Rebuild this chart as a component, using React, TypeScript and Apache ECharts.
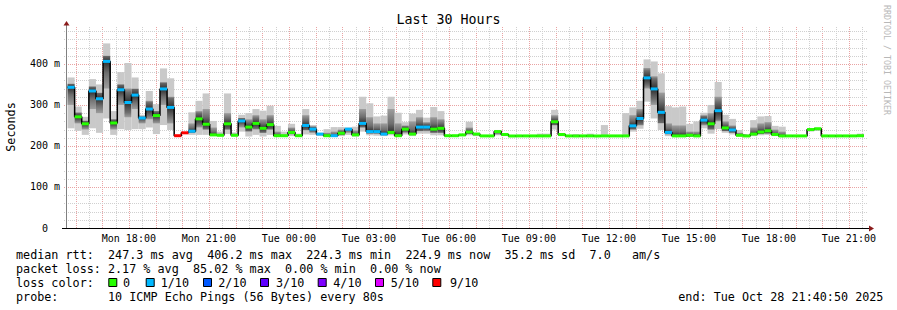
import React, { useEffect, useRef } from "react";
import * as echarts from "echarts";

// ---- time frame (hours since Mon 00:00) ----
const START_HOUR = 15 + 40 / 60 + 50 / 3600; // Mon 15:40:50
const END_HOUR = START_HOUR + 30; // Tue 21:40:50
const BIN_FIRST = 15.7; // first 16-minute consolidation bin
const BIN_HOURS = 16 / 60;

// ---- data (ms) ----
const MEDIAN = [
  343, 271, 254, 334, 315, 406.2, 256, 337, 306, 324,
  268, 290, 274, 339, 294, 225, 232, 236, 266, 253,
  227, 226, 254, 226, 261, 246, 255, 243, 252, 225,
  225, 233, 225, 250, 241, 229, 225, 225, 231, 241,
  227, 255, 235, 235, 229, 233, 225, 241, 229, 246,
  246, 241, 243, 225, 225, 227, 234, 229, 224.5, 224.5,
  235, 228, 224.5, 224.5, 224.5, 224.5, 224.5, 224.5, 259, 228,
  224.5, 224.3, 224.5, 224.5, 224.3, 224.5, 224.5, 224.5, 224.5, 249,
  267, 366, 339, 282, 233, 224.5, 224.5, 226, 224.5, 263,
  254, 286, 244, 239, 226, 224.4, 229, 234, 237, 228,
  224.4, 224.5, 224.5, 224.5, 240, 242, 224.5, 224.4, 224.5, 224.5,
  224.5, 224.9,
];
// loss class index: 0 = 0, 1 = 1/10, ... 6 = 9/10
const LOSS = [
  1, 0, 0, 1, 1, 1, 0, 1, 1, 1,
  1, 1, 0, 1, 1, 6, 6, 1, 0, 0,
  0, 0, 0, 0, 1, 0, 0, 0, 0, 0,
  0, 0, 0, 1, 1, 1, 0, 1, 0, 1,
  0, 1, 1, 1, 1, 0, 0, 0, 0, 1,
  1, 0, 0, 0, 0, 0, 0, 0, 0, 0,
  0, 0, 0, 0, 0, 0, 0, 0, 0, 0,
  0, 0, 0, 0, 0, 0, 0, 0, 0, 1,
  1, 1, 1, 1, 1, 0, 0, 0, 0, 1,
  0, 1, 0, 1, 0, 0, 0, 0, 0, 0,
  0, 0, 0, 0, 0, 0, 0, 0, 0, 0,
  0, 0,
];
const SMOKE_HI = [
  367, 296, 271, 363, 350, 450, 285, 380, 402, 367,
  276, 334, 302, 389, 365, 225, 232, 282, 310, 328,
  261, 235, 328, 233, 276, 280, 290, 286, 298, 249,
  235, 254, 230, 290, 251, 231, 241, 246, 246, 245,
  247, 320, 304, 272, 274, 320, 281, 258, 279, 288,
  269, 295, 285, 227, 226, 229, 259, 232, 225, 225,
  239, 230, 225, 225, 225, 225, 230, 230, 288, 230,
  225, 229, 225, 230, 225, 251, 225, 225, 280, 294,
  310, 411, 406, 377, 297, 294, 296, 254, 260, 281,
  300, 356, 276, 266, 239, 228, 263, 272, 273, 249,
  247, 225, 225, 225, 241, 243, 225, 225, 225, 225,
  225, 230,
];
const SMOKE_LO = [
  243, 237, 227, 243, 232, 267, 227, 241, 239, 241,
  241, 245, 229, 251, 239, 225, 232, 227, 227, 227,
  226, 225, 229, 224, 235, 223, 227, 223, 227, 223,
  223, 224, 223, 228, 227, 225, 223, 223, 224, 227,
  223, 235, 226, 225, 224, 226, 223, 228, 224, 230,
  230, 226, 226, 224, 224, 224, 226, 224, 224, 224,
  226, 224, 224, 224, 224, 224, 224, 224, 240, 224,
  224, 224, 224, 224, 224, 224, 224, 224, 224, 235,
  242, 308, 267, 239, 224, 223, 223, 223, 223, 243,
  230, 241, 232, 228, 223, 223, 224, 226, 227, 224,
  223, 224, 224, 224, 236, 238, 224, 224, 224, 224,
  224, 224,
];
const CORE_LO = [
  300, 255, 240, 290, 280, 340, 240, 300, 270, 290,
  255, 265, 255, 300, 255, 225, 232, 232, 245, 240,
  227, 225, 240, 225, 245, 235, 240, 232, 240, 224,
  224, 228, 224, 238, 232, 226, 224, 224, 226, 232,
  225, 245, 230, 230, 226, 230, 225, 232, 227, 236,
  236, 232, 232, 224, 224, 225, 229, 226, 224, 224,
  228, 225, 224, 224, 224, 224, 224, 224, 250, 225,
  224, 224, 224, 224, 224, 224, 224, 224, 224, 240,
  250, 340, 300, 255, 228, 224, 224, 224, 224, 250,
  240, 260, 236, 232, 224, 224, 226, 229, 230, 226,
  224, 224, 224, 224, 236, 238, 224, 224, 224, 224,
  224, 224,
];
const CORE_HI = [
  352, 282, 262, 345, 330, 420, 265, 350, 340, 340,
  272, 310, 285, 355, 320, 225, 232, 255, 285, 290,
  245, 230, 280, 230, 268, 265, 275, 265, 275, 235,
  228, 245, 227, 275, 248, 230, 232, 235, 240, 243,
  238, 290, 270, 255, 255, 290, 255, 250, 260, 270,
  258, 270, 265, 226, 225, 228, 245, 230, 225, 225,
  237, 229, 225, 225, 225, 225, 227, 227, 275, 229,
  225, 227, 225, 227, 225, 225, 225, 225, 225, 275,
  290, 390, 370, 330, 255, 250, 250, 235, 235, 275,
  280, 320, 260, 250, 232, 226, 245, 255, 258, 240,
  235, 225, 225, 225, 241, 243, 225, 225, 225, 225,
  225, 228,
];

const LOSS_COLORS = ["#26ff00", "#00b8ff", "#0059ff", "#5e00ff", "#7e00ff", "#dd00ff", "#ff0000"];
const LOSS_LABELS = ["0", "1/10", "2/10", "3/10", "4/10", "5/10", "9/10"];
const X_LABEL_HOURS = [18, 21, 24, 27, 30, 33, 36, 39, 42, 45];

const TITLE = "Last 30 Hours";
const LEGEND_LINE1 = "median rtt:  247.3 ms avg  406.2 ms max  224.3 ms min  224.9 ms now  35.2 ms sd  7.0   am/s";
const LEGEND_LINE2 = "packet loss: 2.17 % avg  85.02 % max  0.00 % min  0.00 % now";
const LEGEND_LINE3 = "loss color:";
const LEGEND_LINE4 = "probe:       10 ICMP Echo Pings (56 Bytes) every 80s";
const END_TEXT = "end: Tue Oct 28 21:40:50 2025";
const WATERMARK = "RRDTOOL / TOBI OETIKER";

const MONO = "'DejaVu Sans Mono', monospace";
const CW = 7.08;
const LEG_FONT = 11.75;

function lineTexts(str: string, y: number) {
  const out: any[] = [];
  const re = /\S+(?: \S+)*/g;
  let m: RegExpExecArray | null;
  while ((m = re.exec(str))) {
    out.push({
      type: "text",
      x: 16 + m.index * CW,
      y,
      style: { text: m[0], font: `${LEG_FONT}px ${MONO}`, fill: "#000", verticalAlign: "middle" },
    });
  }
  return out;
}

export default function App() {
  const ref = useRef<HTMLDivElement>(null);
  useEffect(() => {
    if (!ref.current) return;
    const chart = echarts.init(ref.current, null, { renderer: "svg" });

    const binStart = (k: number) => BIN_FIRST + k * BIN_HOURS;
    const smokeData = MEDIAN.map((m, k) => [
      binStart(k), binStart(k + 1), SMOKE_LO[k], SMOKE_HI[k], CORE_LO[k], CORE_HI[k], m,
    ]);
    const lineData: number[][] = [];
    MEDIAN.forEach((m, k) => {
      lineData.push([binStart(k), m]);
      lineData.push([binStart(k + 1), m]);
    });
    const lossData = MEDIAN.map((m, k) => [binStart(k), binStart(k + 1), m, LOSS[k]]);

    // grid lines: [orientation (0 vertical, 1 horizontal), value, major]
    const gridData: number[][] = [];
    for (let h = Math.ceil(START_HOUR * 2) / 2; h <= END_HOUR; h += 0.5) {
      gridData.push([0, h, Number.isInteger(h) ? 1 : 0]);
    }
    for (let v = 20; v <= 480; v += 20) gridData.push([1, v, v % 100 === 0 ? 1 : 0]);

    const pad = (n: number) => (n < 10 ? "0" + n : "" + n);

    const legendBoxes: any[] = [];
    const boxX = [108.3, 145.7, 203, 260, 317.7, 375, 432.3];
    const labX = [123, 160.7, 218.3, 276, 333.3, 390.7, 450];
    LOSS_COLORS.forEach((c, i) => {
      legendBoxes.push({
        type: "rect",
        shape: { x: boxX[i] + 0.5, y: 278.5, width: 8, height: 8 },
        style: { fill: c, stroke: "#000", lineWidth: 1 },
      });
      legendBoxes.push({
        type: "text",
        x: labX[i],
        y: 282.5,
        style: { text: LOSS_LABELS[i], font: `${LEG_FONT}px ${MONO}`, fill: "#000", verticalAlign: "middle" },
      });
    });

    chart.setOption({
      animation: false,
      backgroundColor: "#ffffff",
      grid: { left: 67, top: 27, width: 800, height: 201, containLabel: false },
      xAxis: {
        type: "value",
        min: START_HOUR,
        max: END_HOUR,
        axisLine: { show: false },
        axisTick: { show: false },
        splitLine: { show: false },
        axisLabel: {
          customValues: X_LABEL_HOURS,
          margin: 5,
          fontFamily: MONO,
          fontSize: 10,
          color: "#000",
          formatter: (v: number) => {
            const h = Math.round(v);
            return (h < 24 ? "Mon " : "Tue ") + pad(h % 24) + ":00";
          },
        },
      },
      yAxis: {
        type: "value",
        min: 0,
        max: 490,
        interval: 20,
        axisLine: { show: false },
        axisTick: { show: false },
        splitLine: { show: false },
        axisLabel: {
          margin: 7,
          fontFamily: MONO,
          fontSize: 10,
          color: "#000",
          formatter: (v: number) => (v % 100 === 0 && v <= 400 ? (v === 0 ? "{z|0}" : `${v} m`) : ""),
          rich: { z: { padding: [0, 12, 0, 0], fontFamily: MONO, fontSize: 10, color: "#000" } },
        },
      },
      series: [
        {
          type: "custom",
          name: "grid",
          silent: true,
          z: 1,
          data: gridData,
          renderItem: (params: any, api: any) => {
            const o = api.value(0);
            const v = api.value(1);
            const major = api.value(2) === 1;
            const cs = params.coordSys;
            const stroke = major ? "#e9a3a3" : "#d0d0d0";
            if (o === 0) {
              const x = Math.round(api.coord([v, 0])[0]) + 0.5;
              return {
                type: "line",
                shape: { x1: x, y1: cs.y, x2: x, y2: cs.y + cs.height },
                style: { stroke, lineWidth: 1, lineDash: [1, 1] },
              };
            }
            const y = Math.round(api.coord([START_HOUR, v])[1]) + 0.5;
            return {
              type: "line",
              shape: { x1: cs.x - 3, y1: y, x2: cs.x + cs.width, y2: y },
              style: { stroke, lineWidth: 1, lineDash: [1, 1] },
            };
          },
        },
        {
          type: "custom",
          name: "smoke",
          silent: true,
          z: 2,
          encode: { x: [0, 1], y: [2, 3, 4, 5] },
          data: smokeData,
          renderItem: (params: any, api: any) => {
            const x0 = api.coord([api.value(0), 0])[0];
            const x1 = api.coord([api.value(1), 0])[0];
            const yl = api.coord([api.value(0), api.value(2)])[1];
            const yh = api.coord([api.value(0), api.value(3)])[1];
            const cl = api.coord([api.value(0), api.value(4)])[1];
            const ch = api.coord([api.value(0), api.value(5)])[1];
            const ym = api.coord([api.value(0), api.value(6)])[1];
            const children: any[] = [];
            if (yl - yh > 0.2)
              children.push({ type: "rect", shape: { x: x0, y: yh, width: x1 - x0, height: yl - yh }, style: { fill: "#c9c9c9" } });
            if (cl - ch > 0.2) {
              let t = (ym - ch) / (cl - ch);
              t = Math.max(0.05, Math.min(0.95, t));
              const fill = new echarts.graphic.LinearGradient(0, 0, 0, 1, [
                { offset: 0, color: "#9e9e9e" },
                { offset: Math.max(0, t - 0.35), color: "#6e6e6e" },
                { offset: t, color: "#2e2e2e" },
                { offset: Math.min(1, t + 0.35), color: "#6e6e6e" },
                { offset: 1, color: "#9e9e9e" },
              ]);
              children.push({ type: "rect", shape: { x: x0, y: ch, width: x1 - x0, height: cl - ch }, style: { fill } });
            }
            return { type: "group", children };
          },
        },
        {
          type: "line",
          name: "median",
          silent: true,
          z: 3,
          data: lineData,
          symbol: "none",
          showSymbol: false,
          lineStyle: { color: "#000", width: 1.5 },
        },
        {
          type: "custom",
          name: "loss",
          silent: true,
          z: 4,
          encode: { x: [0, 1], y: 2 },
          data: lossData,
          renderItem: (params: any, api: any) => {
            const x0 = api.coord([api.value(0), 0])[0];
            const x1 = api.coord([api.value(1), 0])[0];
            const y = api.coord([api.value(0), api.value(2)])[1];
            return {
              type: "rect",
              shape: { x: x0, y: y - 1.5, width: x1 - x0, height: 3 },
              style: { fill: LOSS_COLORS[api.value(3)] },
            };
          },
        },
      ],
      graphic: [
        // axes
        { type: "line", shape: { x1: 66.5, y1: 229, x2: 66.5, y2: 25 }, style: { stroke: "#808080", lineWidth: 1 }, z: 10 },
        { type: "polygon", shape: { points: [[63.5, 25.5], [69.5, 25.5], [66.5, 21]] }, style: { fill: "#8b1c1c" }, z: 10 },
        { type: "line", shape: { x1: 62, y1: 228.5, x2: 870, y2: 228.5 }, style: { stroke: "#000", lineWidth: 1 }, z: 10 },
        { type: "polygon", shape: { points: [[869, 225.5], [869, 231.5], [874, 228.5]] }, style: { fill: "#8b1c1c" }, z: 10 },
        // title & axis name
        {
          type: "text", x: 448.5, y: 19,
          style: { text: TITLE, font: `13.3px ${MONO}`, fill: "#000", align: "center", verticalAlign: "middle" },
        },
        {
          type: "text", x: 10.5, y: 127, rotation: Math.PI / 2,
          style: { text: "Seconds", font: `${LEG_FONT}px ${MONO}`, fill: "#000", align: "center", verticalAlign: "middle" },
        },
        {
          type: "text", x: 887, y: 60, rotation: -Math.PI / 2,
          style: { text: WATERMARK, font: `8.3px ${MONO}`, fill: "#b8b8b8", align: "center", verticalAlign: "middle" },
        },
        // legend
        ...lineTexts(LEGEND_LINE1, 254.5),
        ...lineTexts(LEGEND_LINE2, 268.5),
        ...lineTexts(LEGEND_LINE3, 282.5),
        ...legendBoxes,
        ...lineTexts(LEGEND_LINE4, 296.5),
        {
          type: "text", x: 678.3, y: 296.5,
          style: { text: END_TEXT, font: `${LEG_FONT}px ${MONO}`, fill: "#000", verticalAlign: "middle" },
        },
      ],
    });
    return () => chart.dispose();
  }, []);
  return (
    <div
      ref={ref}
      style={{ position: "absolute", left: 0, top: 0, width: 897, height: 310, background: "#fff" }}
    />
  );
}
